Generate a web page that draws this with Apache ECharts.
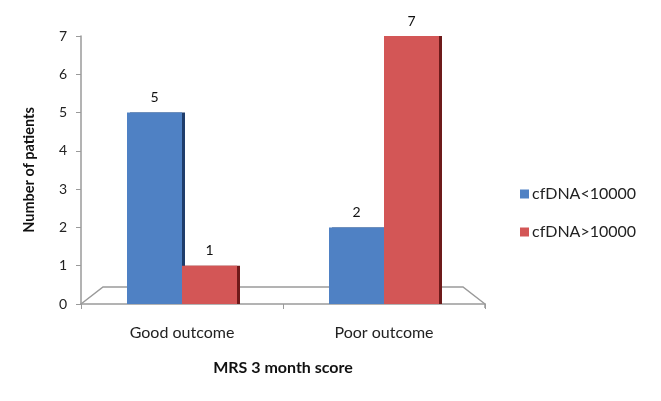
<!DOCTYPE html>
<html><head><meta charset="utf-8">
<script src="https://cdn.jsdelivr.net/npm/echarts@6/dist/echarts.min.js"></script>
<style>html,body{margin:0;padding:0;background:#fff}#c{width:661px;height:401px}</style>
</head><body><div id="c"></div>
<script>
const categories = ['Good outcome', 'Poor outcome'];
const seriesNames = ['cfDNA<10000', 'cfDNA>10000'];
const lowValues = [5, 2];
const highValues = [1, 7];
const yTicks = [0, 1, 2, 3, 4, 5, 6, 7];

const FONT = 'Lato, "Open Sans", sans-serif';
const G = {left: 81, right: 176, top: 36, bottom: 97};
const chart = echarts.init(document.getElementById('c'));
const W = 661, H = 401;
const gx0 = G.left, gx1 = W - G.right, gy = H - G.bottom;
const depth = 17, inset = 22;

chart.setOption({
  animation: false,
  backgroundColor: '#fff',
  textStyle: {fontFamily: FONT},
  grid: G,
  legend: {
    orient: 'vertical', left: 515, top: 181, itemWidth: 9, itemHeight: 9,
    itemGap: 22, icon: 'rect',
    textStyle: {fontFamily: FONT, fontSize: 16, color: '#222', padding: [0, 0, 0, -2]},
    data: seriesNames
  },
  xAxis: {
    type: 'category', data: categories,
    name: 'MRS 3 month score', nameLocation: 'middle', nameGap: 56,
    nameTextStyle: {fontFamily: FONT, fontSize: 16, fontWeight: 'bold', color: '#111'},
    axisLine: {lineStyle: {color: '#9a9a9a', width: 1.5}},
    axisTick: {show: true, length: 5, lineStyle: {color: '#9a9a9a'}},
    axisLabel: {fontFamily: FONT, fontSize: 16, color: '#222', margin: 21}
  },
  yAxis: {
    type: 'value', min: 0, max: 7, interval: 1,
    name: 'Number of patients', nameLocation: 'middle', nameGap: 44, nameRotate: 90,
    nameTextStyle: {fontFamily: FONT, fontSize: 14.5, fontWeight: 'bold', color: '#111'},
    axisLine: {show: true, lineStyle: {color: '#9a9a9a', width: 1.5}},
    axisTick: {show: true, length: 5, lineStyle: {color: '#9a9a9a'}},
    splitLine: {show: false},
    axisLabel: {fontFamily: FONT, fontSize: 14, color: '#222', margin: 14,
      formatter: v => yTicks.includes(v) ? String(v) : ''}
  },
  series: [
    {
      name: seriesNames[0], type: 'bar', data: lowValues, barWidth: 55, barGap: '0%',
      itemStyle: {color: '#4f81c4', shadowColor: '#1f3d6b', shadowOffsetX: 3, shadowOffsetY: 0, shadowBlur: 0},
      label: {show: true, position: 'top', distance: 8, fontFamily: FONT, fontSize: 14, color: '#111'}
    },
    {
      name: seriesNames[1], type: 'bar', data: highValues, barWidth: 55,
      itemStyle: {color: '#d35656', shadowColor: '#6e1a1a', shadowOffsetX: 3, shadowOffsetY: 0, shadowBlur: 0},
      label: {show: true, position: 'top', distance: 8, fontFamily: FONT, fontSize: 14, color: '#111'}
    }
  ],
  graphic: [{
    type: 'polyline', z: -1,
    shape: {points: [[gx0, gy], [gx0 + inset, gy - depth], [gx1 - inset, gy - depth], [gx1, gy], [gx1, gy + 4]]},
    style: {stroke: '#9a9a9a', lineWidth: 1.5, fill: null}
  }]
});
</script></body></html>
